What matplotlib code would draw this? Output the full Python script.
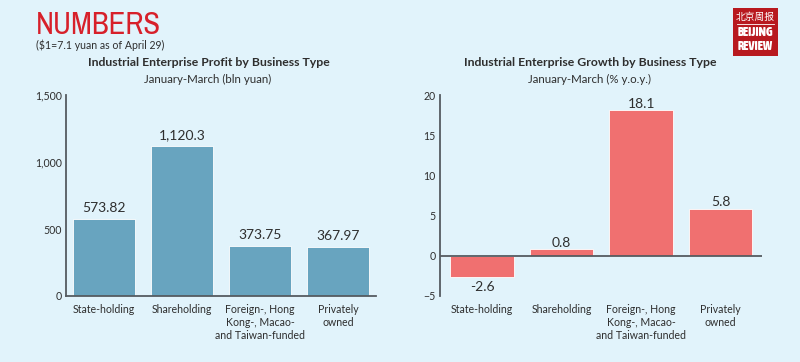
import matplotlib
matplotlib.use("Agg")
import matplotlib.pyplot as plt
from matplotlib.patches import Rectangle
from matplotlib import font_manager

categories = ["State-holding", "Shareholding",
              "Foreign-, Hong\nKong-, Macao-\nand Taiwan-funded",
              "Privately\nowned"]
profit = [573.82, 1120.3, 373.75, 367.97]
profit_labels = ["573.82", "1,120.3", "373.75", "367.97"]
growth = [-2.6, 0.8, 18.1, 5.8]
growth_labels = ["-2.6", "0.8", "18.1", "5.8"]
profit_ticks = [0, 500, 1000, 1500]
profit_ticklabels = ["0", "500", "1,000", "1,500"]
growth_ticks = [-5, 0, 5, 10, 15, 20]

BG = "#E1F3FB"
BLUE = "#68A4BF"
RED = "#F07070"
AX = "#555B60"
TXT = "#2E2E2E"
FONT = ["Lato", "DejaVu Sans"]

plt.rcParams['font.family'] = FONT

def _wnum(w):
    if isinstance(w, int):
        return w
    return {"bold": 700, "heavy": 800, "black": 900, "semibold": 600, "demibold": 600,
            "light": 300, "normal": 400, "regular": 400, "medium": 500}.get(str(w).lower(), 400)

# find condensed/narrow fonts if installed
narrow_reg = None
narrow_bold = None
for f in font_manager.fontManager.ttflist:
    n = f.name
    if ("Narrow" in n or "Condensed" in n) and "Mono" not in n and "Serif" not in n:
        w = _wnum(f.weight)
        if f.style != "normal":
            continue
        if w == 400 and (narrow_reg is None or "Liberation" in n):
            narrow_reg = f.fname
        if w >= 600 and (narrow_bold is None or "Liberation" in n):
            narrow_bold = f.fname

if narrow_reg:
    NARROW_PROPS = dict(fontproperties=font_manager.FontProperties(fname=narrow_reg, size=22))
else:
    NARROW_PROPS = dict(fontsize=20, family=["Roboto", "DejaVu Sans"])
if narrow_bold:
    NARROW_LOGO = dict(fontproperties=font_manager.FontProperties(fname=narrow_bold, size=9))
else:
    NARROW_LOGO = dict(fontsize=8.2, fontweight="bold", family=["Roboto", "DejaVu Sans"])

fig = plt.figure(figsize=(8.0, 3.62), dpi=100)
fig.patch.set_facecolor(BG)

W, H = 800, 362
def fx(px): return px / W
def fy(py): return 1 - py / H

# Header
fig.text(fx(36), fy(34), "NUMBERS", color="#D7202A", ha="left", va="baseline", **NARROW_PROPS)
fig.text(fx(36), fy(49), "($1=7.1 yuan as of April 29)", color=TXT, fontsize=7.6,
         ha="left", va="baseline")

# Logo
logo = Rectangle((fx(733), fy(56)), fx(45), fy(8) - fy(56), transform=fig.transFigure,
                 facecolor="#B8191F", edgecolor="none")
fig.patches.append(logo)
fig.text(fx(755.5), fy(16.5), "北京周报", color="white", fontsize=7, style="italic",
         family=["Noto Sans CJK SC", "DejaVu Sans"], ha="center", va="center")
fig.lines.append(plt.Line2D([fx(737), fx(774)], [fy(23.5), fy(23.5)], transform=fig.transFigure,
                            color="white", lw=0.6))
fig.text(fx(755.5), fy(32), "BEIJING", color="white", ha="center", va="center", **NARROW_LOGO)
fig.text(fx(755.5), fy(46), "REVIEW", color="white", ha="center", va="center", **NARROW_LOGO)

# Titles
fig.text(fx(209), fy(62), "Industrial Enterprise Profit by Business Type", color=TXT,
         fontsize=8.8, fontweight="bold", ha="center", va="center")
fig.text(fx(208), fy(79), "January-March (bln yuan)", color=TXT, fontsize=8.3,
         ha="center", va="center")
fig.text(fx(590), fy(62), "Industrial Enterprise Growth by Business Type", color=TXT,
         fontsize=8.8, fontweight="bold", ha="center", va="center")
fig.text(fx(590), fy(79), "January-March (% y.o.y.)", color=TXT, fontsize=8.3,
         ha="center", va="center")

def style_axes(ax):
    ax.set_facecolor("none")
    for s in ["top", "right"]:
        ax.spines[s].set_visible(False)
    ax.spines["left"].set_color(AX)
    ax.spines["left"].set_linewidth(1.3)
    ax.spines["bottom"].set_color(AX)
    ax.spines["bottom"].set_linewidth(1.3)
    ax.tick_params(axis="both", length=0, labelsize=7.6, colors=TXT)
    ax.tick_params(axis="y", pad=3)
    ax.tick_params(axis="x", pad=6)

# Left chart
ax1 = fig.add_axes([fx(66), fy(296), fx(376) - fx(66), fy(95) - fy(296)])
x = range(len(categories))
ax1.bar(x, profit, width=0.8, color=BLUE, edgecolor="white", linewidth=0.6)
ax1.set_xlim(-0.49, 3.49)
ax1.set_ylim(0, 1500)
ax1.set_yticks(profit_ticks)
ax1.set_yticklabels(profit_ticklabels)
ax1.set_xticks(list(x))
ax1.set_xticklabels(categories, linespacing=1.2)
style_axes(ax1)
for i, (v, l) in enumerate(zip(profit, profit_labels)):
    ax1.annotate(l, (i, v), xytext=(0, 3.5), textcoords="offset points",
                 ha="center", va="bottom", fontsize=10, color=TXT)

# Right chart
ax2 = fig.add_axes([fx(440), fy(296), fx(762) - fx(440), fy(95) - fy(296)])
ax2.bar(x, growth, width=0.8, color=RED, edgecolor="white", linewidth=0.6)
ax2.set_xlim(-0.53, 3.52)
ax2.set_ylim(-5, 20)
ax2.set_yticks(growth_ticks)
ax2.set_xticks(list(x))
ax2.set_xticklabels(categories, linespacing=1.2)
style_axes(ax2)
ax2.spines["bottom"].set_visible(False)
ax2.axhline(0, color=AX, lw=1.3)
for i, (v, l) in enumerate(zip(growth, growth_labels)):
    if v >= 0:
        ax2.annotate(l, (i, v), xytext=(0, 0.5), textcoords="offset points",
                     ha="center", va="bottom", fontsize=10, color=TXT)
    else:
        ax2.annotate(l, (i, v), xytext=(0, -3), textcoords="offset points",
                     ha="center", va="top", fontsize=10, color=TXT)

fig.savefig("out.png", dpi=100, facecolor=BG)
